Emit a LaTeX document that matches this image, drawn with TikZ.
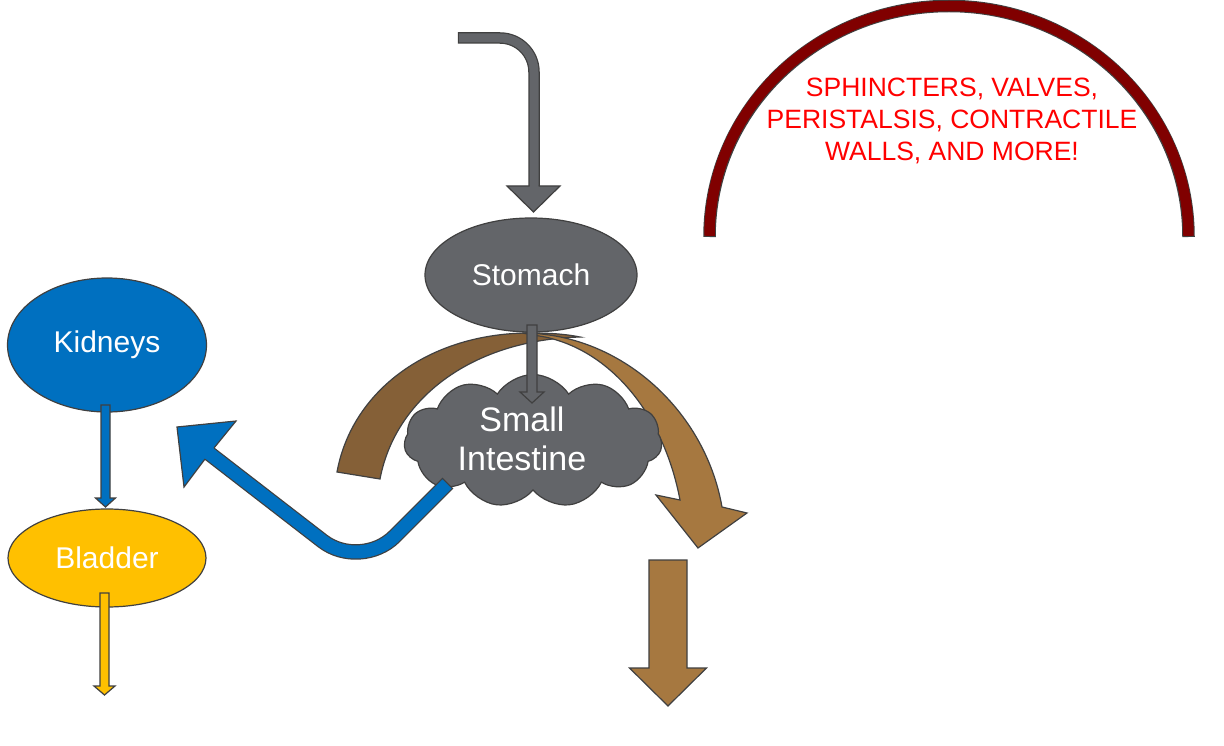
\documentclass[tikz,border=0pt]{standalone}
\usepackage{fontspec}
\setmainfont{Liberation Sans}
\usetikzlibrary{shapes.symbols,shapes.geometric,calc}
\definecolor{cgray}{RGB}{99,101,105}
\definecolor{cedge}{RGB}{64,64,64}
\definecolor{cblue}{RGB}{0,112,192}
\definecolor{cyel}{RGB}{255,192,0}
\definecolor{cbrownd}{RGB}{133,96,55}
\definecolor{cbrownl}{RGB}{166,120,64}
\definecolor{cdred}{RGB}{128,0,0}
\newcommand\vblockarrow[6]{% #1 style, #2 from, #3 tip, #4 half shaft, #5 half head, #6 head length
  \filldraw[#1] let \p1=(#2), \p2=(#3) in
    (\x1-#4,\y1) -- (\x1+#4,\y1) -- (\x1+#4,\y2+#6) -- (\x1+#5,\y2+#6) -- (\x1,\y2)
    -- (\x1-#5,\y2+#6) -- (\x1-#4,\y2+#6) -- cycle;}
\begin{document}
\begin{tikzpicture}[x=1pt,y=-1pt,
  organ/.style={ellipse, draw=cedge, line width=1.2pt, text=white,
    font=\fontsize{30}{34}\selectfont, inner sep=0pt},
  blk/.style={draw=cedge, line width=1.2pt, line join=miter},
  whitetext/.style={text=white, align=center, inner sep=0pt}]
\useasboundingbox (0,0) rectangle (1224,746);
\fill[white] (0,0) rectangle (1224,746);

% red arch
\draw[cedge, line width=12.5pt] (709.5,237) arc[start angle=180,end angle=360,x radius=239.5,y radius=231];
\draw[cdred, line width=10.5pt] (709.5,235.8) arc[start angle=180,end angle=360,x radius=239.5,y radius=229.8];
\node[text=red, align=center, font=\fontsize{26.5}{32}\selectfont, inner sep=0pt] (note) at (952,121)
  {SPHINCTERS, VALVES,\\PERISTALSIS, CONTRACTILE\\WALLS, AND MORE!};

% brown curved arrow (back band, then front band)
\filldraw[blk, fill=cbrownd] (337,472) .. controls (352,390) and (430,333) .. (530,333)
  .. controls (550,333) and (565,334) .. (580,337)
  .. controls (470,340) and (395,400) .. (380,479) -- cycle;
\filldraw[blk, fill=cbrownl] (522,333) .. controls (620,333) and (705,410) .. (722,507)
  -- (747,513) -- (698,548) -- (656,495) -- (680,500)
  .. controls (665,420) and (615,352) .. (545,337) -- cycle;

% organs
\node[organ, fill=cgray, minimum width=212, minimum height=114] (stom) at (531,275) {Stomach};
\node[organ, fill=cblue, minimum width=199, minimum height=134] (kid) at (107,345) {Kidneys};
\node[organ, fill=cyel, minimum width=198, minimum height=98] (blad) at (107,558) {Bladder};
\node[cloud, cloud puffs=11, cloud puff arc=115, aspect=2, draw=cedge, fill=cgray,
  line width=1.2pt, minimum width=258, minimum height=133, inner sep=0pt] (si) at (533,441) {};
\node[whitetext, font=\fontsize{34}{39}\selectfont] (silabel) at (522,439) {Small\\Intestine};

% top gray bent arrow into stomach
\coordinate (tin) at (459,38);
\coordinate (tbend) at (534,38);
\coordinate (tend) at (534,188);
\draw[cedge, line width=11.5pt, rounded corners=34pt] ($(tin)+(-1.2,0)$) -- (tbend) -- (tend);
\draw[cgray, line width=9pt, rounded corners=34pt] (tin) -- (tbend) -- (tend);
\filldraw[blk, fill=cgray] (529.5,186) -- (507,186) -- (533.5,212) -- (560,186) -- (538.5,186);

% stomach -> small intestine
\coordinate (s1) at (532,325);
\coordinate (s2) at (532,403);
\vblockarrow{blk, fill=cgray}{s1}{s2}{5pt}{12pt}{11pt}

% small intestine -> kidneys (blue bent arrow)
\coordinate (b0) at (447,484);
\coordinate (bc) at (360.6,570.4);
\coordinate (b1) at (207,451.7);
\draw[cedge, line width=15.5pt, rounded corners=48pt, shorten <=-1.3pt] (b0) -- (bc) -- (b1);
\draw[cblue, line width=13pt, rounded corners=48pt] (b0) -- (bc) -- (b1);
\filldraw[blk, fill=cblue] (214,448) -- (236,421) -- (177,427) -- (184,487) -- (205,459);

% kidneys -> bladder
\coordinate (k1) at (105.5,405);
\coordinate (k2) at (105.5,507);
\vblockarrow{blk, fill=cblue}{k1}{k2}{4.5pt}{10pt}{9pt}

% bladder out
\coordinate (u1) at (104.5,593);
\coordinate (u2) at (104.5,695);
\vblockarrow{blk, fill=cyel}{u1}{u2}{4.5pt}{10.5pt}{9pt}

% brown down arrow
\coordinate (w1) at (668,560);
\coordinate (w2) at (668,706);
\vblockarrow{blk, fill=cbrownl}{w1}{w2}{19pt}{38.5pt}{38pt}
\end{tikzpicture}
\end{document}
